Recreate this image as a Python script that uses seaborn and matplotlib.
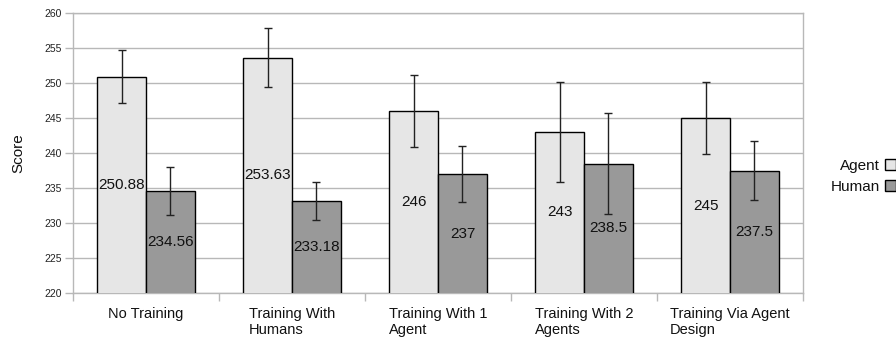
import matplotlib
matplotlib.use("Agg")
import matplotlib.pyplot as plt
import seaborn as sns
import pandas as pd
import numpy as np
from matplotlib.ticker import MultipleLocator, FixedLocator

categories = ["No Training", "Training With\nHumans", "Training With 1\nAgent",
              "Training With 2\nAgents", "Training Via Agent\nDesign"]
series = ["Agent", "Human"]
agent_vals = [250.88, 253.63, 246, 243, 245]
human_vals = [234.56, 233.18, 237, 238.5, 237.5]
agent_err = [3.8, 4.2, 5.2, 7.2, 5.1]
human_err = [3.4, 2.7, 4.0, 7.2, 4.2]
colors = ["#e6e6e6", "#999999"]
ymin, ymax = 220, 260

sns.set_theme(style="white")
plt.rcParams["font.family"] = ["Liberation Sans", "DejaVu Sans"]

df = pd.DataFrame({
    "category": categories * 2,
    "series": [series[0]] * len(categories) + [series[1]] * len(categories),
    "score": agent_vals + human_vals,
})
errs = {series[0]: agent_err, series[1]: human_err}
vals = {series[0]: agent_vals, series[1]: human_vals}

fig = plt.figure(figsize=(8.96, 3.41), dpi=100)
ax = fig.add_axes([73 / 896, 1 - 293 / 341, (803 - 73) / 896, (293 - 13) / 341])

sns.barplot(data=df, x="category", y="score", hue="series", palette=colors,
            width=0.67, gap=0, errorbar=None, edgecolor="black", linewidth=1,
            ax=ax, legend=True, zorder=3)

for cont, s in zip(ax.containers, series):
    xs = [p.get_x() + p.get_width() / 2 for p in cont]
    ax.errorbar(xs, vals[s], yerr=errs[s], fmt="none", ecolor="#222222",
                elinewidth=1, capsize=3, capthick=1, zorder=4)
    for x, v in zip(xs, vals[s]):
        ax.text(x, (v + ymin) / 2, f"{v:g}", ha="center", va="center",
                fontsize=11, color="#111111", zorder=5)

ax.set_ylim(ymin, ymax)
ax.set_xlim(-0.5, len(categories) - 0.5)
ax.yaxis.set_major_locator(MultipleLocator(5))
ax.grid(axis="y", color="#b8b8b8", linewidth=1, zorder=0)
ax.set_axisbelow(True)
for sp in ax.spines.values():
    sp.set_visible(True)
    sp.set_color("#b8b8b8")
    sp.set_linewidth(1)

ax.xaxis.set_minor_locator(FixedLocator(np.arange(-0.5, len(categories), 1.0)))
ax.tick_params(axis="x", which="major", length=0, pad=10, labelsize=10.5,
               labelcolor="#111111")
ax.tick_params(axis="x", which="minor", length=6, color="#b8b8b8", width=1,
               direction="out", bottom=True)
ax.tick_params(axis="y", which="major", length=6, color="#b8b8b8", width=1,
               left=True, labelsize=7.5, labelcolor="#222222", pad=2)
for lbl in ax.get_xticklabels():
    lbl.set_multialignment("left")

ax.set_xlabel("")
ax.set_ylabel("Score", fontsize=11, color="#111111", labelpad=14)

handles, labels = ax.get_legend_handles_labels()
ax.legend_.remove()
leg = fig.legend(handles, labels, loc="center right", bbox_to_anchor=(1.0, 1 - 176.5 / 341),
                 bbox_transform=fig.transFigure, frameon=False, markerfirst=False,
                 fontsize=11, handlelength=0.75, handleheight=0.75, handletextpad=0.3,
                 borderpad=0, borderaxespad=0, labelspacing=0.45)
for t in leg.get_texts():
    t.set_color("#111111")

fig.savefig("out.png", dpi=100)
